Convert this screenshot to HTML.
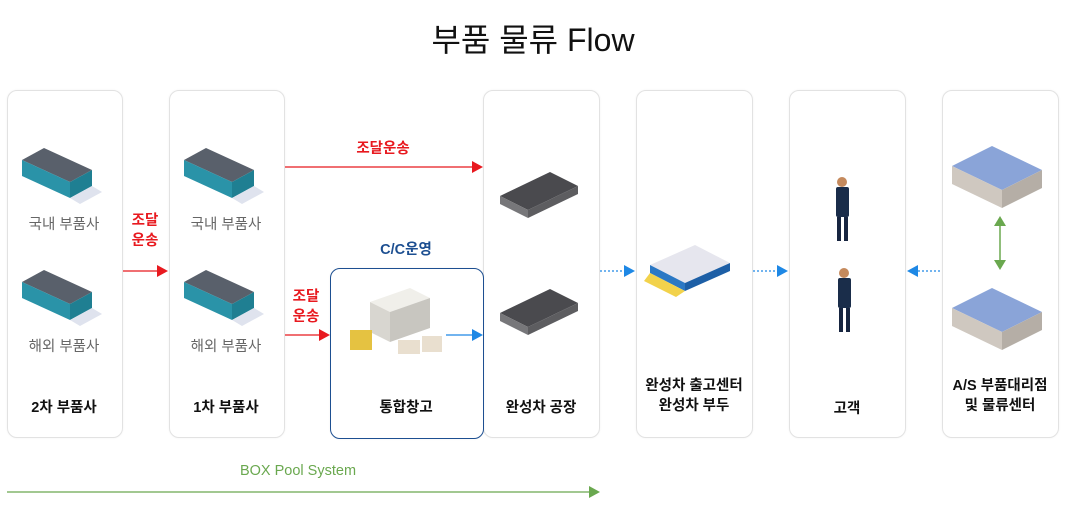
<!DOCTYPE html>
<html><head><meta charset="utf-8"><style>
body{margin:0;width:1067px;height:509px;background:#fff;position:relative;overflow:hidden;font-family:"Liberation Sans","Noto Sans CJK KR",sans-serif;}
.box{position:absolute;top:90px;height:348px;border:1px solid #e2e2e2;border-radius:10px;box-sizing:border-box;box-shadow:0 0 2px rgba(0,0,0,.05);}
.t{position:absolute;font-size:14.5px;text-align:center;white-space:nowrap;transform:translateX(-50%);}
.g{color:#666;}
.b{color:#111;font-weight:bold;}
.r{color:#e8191f;font-weight:bold;}
svg{position:absolute;left:0;top:0;}
</style></head><body>
<div class="t" style="left:533px;top:15px;font-size:32px;color:#111;">부품 물류 Flow</div>
<div class="box" style="left:7px;width:116px"></div>
<div class="box" style="left:169px;width:116px"></div>
<div class="box" style="left:483px;width:117px"></div>
<div class="box" style="left:636px;width:117px"></div>
<div class="box" style="left:789px;width:117px"></div>
<div class="box" style="left:942px;width:117px"></div>
<div class="box" style="left:330px;top:268px;height:171px;width:154px;border:1.5px solid #1d4f91;background:#fff"></div>
<svg width="1067" height="509">
<defs>
<g id="wh">
<polygon points="0,20 22,8 70,30 48,42" fill="#59606b"/>
<polygon points="0,20 0,36 48,58 48,42" fill="#2a93a8"/>
<polygon points="48,42 70,30 70,46 48,58" fill="#1f7f92"/>
<polygon points="48,58 70,46 80,52 58,64" fill="#dfe3ee"/>
</g>
<g id="fac">
<polygon points="0,28 50,4 78,18 28,42" fill="#4a4a4e"/>
<polygon points="0,28 0,36 28,50 28,42" fill="#77777a"/>
<polygon points="28,42 78,18 78,26 28,50" fill="#5d5d60"/>
</g>
<g id="as">
<polygon points="0,24 40,4 90,28 50,48" fill="#8aa4d8"/>
<polygon points="0,24 0,42 50,66 50,48" fill="#cfc8c0"/>
<polygon points="50,48 90,28 90,46 50,66" fill="#b5aea6"/>
</g>
<g id="man">
<circle cx="7" cy="5" r="5" fill="#c58a5d"/>
<rect x="1" y="10" width="13" height="30" rx="2" fill="#1a2d4a"/>
<rect x="2" y="40" width="4" height="24" fill="#172540"/><rect x="9" y="40" width="4" height="24" fill="#172540"/>
</g>
</defs>
<use href="#wh" x="22" y="140"/><use href="#wh" x="22" y="262"/>
<use href="#wh" x="184" y="140"/><use href="#wh" x="184" y="262"/>
<use href="#fac" x="500" y="168"/><use href="#fac" x="500" y="285"/>
<use href="#as" x="952" y="142"/><use href="#as" x="952" y="284"/>
<g transform="translate(650,235)">
<polygon points="0,30 45,10 80,28 35,48" fill="#e6e6ee"/>
<polygon points="0,30 0,38 35,56 35,48" fill="#2b78c4"/>
<polygon points="35,48 80,28 80,36 35,56" fill="#1d5fa6"/>
<polygon points="0,38 35,56 26,62 -6,46" fill="#f2d24b"/>
</g>
<use href="#man" x="835" y="177"/><use href="#man" x="837" y="268"/>
<g transform="translate(350,288)">
<polygon points="20,14 60,0 80,10 40,24" fill="#f0efea"/>
<polygon points="20,14 20,44 40,54 40,24" fill="#d8d6d0"/>
<polygon points="40,24 80,10 80,40 40,54" fill="#c8c6c0"/>
<rect x="0" y="42" width="22" height="20" fill="#e5c241"/>
<rect x="48" y="52" width="22" height="14" fill="#e9dfcf"/><rect x="72" y="48" width="20" height="16" fill="#e9dfcf"/>
</g>
<line x1="123" y1="271" x2="157" y2="271" stroke="#e8191f" stroke-width="1.2"/>
<polygon points="157,265 168,271 157,277" fill="#e8191f"/>
<line x1="285" y1="167" x2="472" y2="167" stroke="#e8191f" stroke-width="1.2"/>
<polygon points="472,161 483,167 472,173" fill="#e8191f"/>
<line x1="285" y1="335" x2="319" y2="335" stroke="#e8191f" stroke-width="1.2"/>
<polygon points="319,329 330,335 319,341" fill="#e8191f"/>
<line x1="446" y1="335" x2="472" y2="335" stroke="#1e88e5" stroke-width="1.2"/>
<polygon points="472,329 483,335 472,341" fill="#1e88e5"/>
<line x1="600" y1="271" x2="624" y2="271" stroke="#1e88e5" stroke-width="1.3" stroke-dasharray="2,2"/>
<polygon points="624,265 635,271 624,277" fill="#1e88e5"/>
<line x1="753" y1="271" x2="777" y2="271" stroke="#1e88e5" stroke-width="1.3" stroke-dasharray="2,2"/>
<polygon points="777,265 788,271 777,277" fill="#1e88e5"/>
<line x1="918" y1="271" x2="942" y2="271" stroke="#1e88e5" stroke-width="1.3" stroke-dasharray="2,2"/>
<polygon points="918,265 907,271 918,277" fill="#1e88e5"/>
<line x1="1000" y1="222" x2="1000" y2="260" stroke="#6aa84f" stroke-width="1.5"/>
<polygon points="994,226 1000,216 1006,226" fill="#6aa84f"/>
<polygon points="994,260 1000,270 1006,260" fill="#6aa84f"/>
<line x1="7" y1="492" x2="590" y2="492" stroke="#6aa84f" stroke-width="1.2"/>
<polygon points="589,486 600,492 589,498" fill="#6aa84f"/>
</svg>
<div class="t g" style="left:64px;top:213px">국내 부품사</div>
<div class="t g" style="left:64px;top:335px">해외 부품사</div>
<div class="t b" style="left:64px;top:396px">2차 부품사</div>
<div class="t g" style="left:226px;top:213px">국내 부품사</div>
<div class="t g" style="left:226px;top:335px">해외 부품사</div>
<div class="t b" style="left:226px;top:396px">1차 부품사</div>
<div class="t r" style="left:145px;top:211px;line-height:20px">조달<br>운송</div>
<div class="t r" style="left:306px;top:287px;line-height:20px">조달<br>운송</div>
<div class="t r" style="left:383px;top:137px">조달운송</div>
<div class="t" style="left:406px;top:238px;color:#1d4f91;font-weight:bold">C/C운영</div>
<div class="t b" style="left:406px;top:396px">통합창고</div>
<div class="t b" style="left:541px;top:396px">완성차 공장</div>
<div class="t b" style="left:694px;top:376px;line-height:20px">완성차 출고센터<br>완성차 부두</div>
<div class="t b" style="left:847px;top:397px">고객</div>
<div class="t b" style="left:1000px;top:376px;line-height:20px">A/S 부품대리점<br>및 물류센터</div>
<div class="t" style="left:298px;top:463px;color:#6aa84f">BOX Pool System</div>
</body></html>
